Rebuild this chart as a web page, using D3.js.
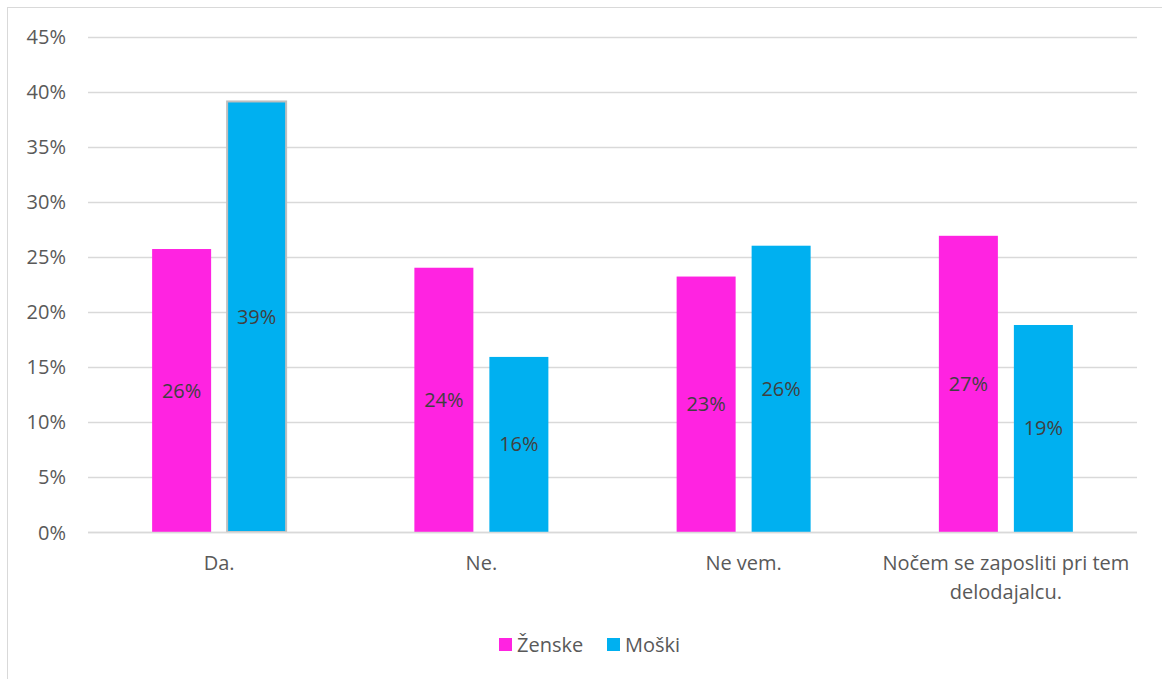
<!DOCTYPE html>
<html><head><meta charset="utf-8">
<script src="https://cdn.jsdelivr.net/npm/d3@7"></script>
<style>body{margin:0;background:#fff}svg{display:block}text{font-family:"Open Sans",sans-serif}</style>
</head><body>
<svg id="c" width="1162" height="679"></svg>
<script>
const categories = [["Da."],["Ne."],["Ne vem."],["Nočem se zaposliti pri tem","delodajalcu."]];
const seriesNames = ["Ženske","Moški"];
const zenske = [25.7, 24.0, 23.2, 26.9];
const moski = [39.1, 15.9, 26.0, 18.8];
const labelsZ = ["26%","24%","23%","27%"];
const labelsM = ["39%","16%","26%","19%"];
const yTicks = [0,5,10,15,20,25,30,35,40,45];
const colors = ["#FF23E1","#00B0F0"];

const FS = 20;
const svg = d3.select("#c");
svg.append("rect").attr("x",7.5).attr("y",7.5).attr("width",1170).attr("height",700)
  .attr("fill","none").attr("stroke","#d9d9d9").attr("stroke-width",1);

const L=88,R=1137,T=36.5,B=532;
const x = d3.scaleBand().domain(d3.range(4)).range([L,R]);
const barW = 59, gap = 16, groupW = 2*barW+gap;
const xs = d3.scaleOrdinal().domain([0,1]).range([0, barW+gap]);
const y = d3.scaleLinear().domain([0,45]).range([B,T]);

const g = svg.append("g");
g.append("g").selectAll("line").data(yTicks).join("line")
  .attr("x1",L).attr("x2",R).attr("y1",d=>Math.round(y(d))+0.5).attr("y2",d=>Math.round(y(d))+0.5)
  .attr("stroke","#d9d9d9").attr("stroke-width",1.5);

const yAxis = d3.axisLeft(y).tickValues(yTicks).tickFormat(d=>d+"%").tickSize(0).tickPadding(0);
const ya = g.append("g").attr("transform","translate(66,0)").call(yAxis);
ya.select(".domain").remove();
ya.selectAll("text").attr("font-size",FS).attr("fill","#595959").attr("font-family","Open Sans").attr("dy","0.35em");

const series=[zenske,moski], labs=[labelsZ,labelsM];
const bx = (i,si)=>x(i)+x.bandwidth()/2-groupW/2+xs(si);
series.forEach((vals,si)=>{
  const gg=g.append("g");
  gg.selectAll("rect").data(vals).join("rect")
    .attr("x",(d,i)=>bx(i,si))
    .attr("width",barW)
    .attr("y",d=>y(d)).attr("height",d=>B-y(d))
    .attr("fill",colors[si])
    .attr("stroke",(d,i)=>(si===1&&i===0)?"#bfbfbf":"none").attr("stroke-width",2);
  gg.selectAll("text").data(vals).join("text")
    .attr("x",(d,i)=>bx(i,si)+barW/2)
    .attr("y",d=>(y(d)+B)/2).attr("dy","0.35em").attr("text-anchor","middle")
    .attr("font-size",FS).attr("fill","#404040").text((d,i)=>labs[si][i]);
});

const xa = g.append("g");
categories.forEach((lines,i)=>{
  const t = xa.append("text").attr("x",x(i)+x.bandwidth()/2).attr("y",570)
    .attr("text-anchor","middle").attr("font-size",FS).attr("fill","#595959");
  lines.forEach((ln,j)=>t.append("tspan").attr("x",x(i)+x.bandwidth()/2).attr("dy",j===0?0:29).text(ln));
});
svg.append("line").attr("x1",L).attr("x2",R).attr("y1",B+0.5).attr("y2",B+0.5).attr("stroke","#d9d9d9").attr("stroke-width",1.5);

const leg = svg.append("g");
const legX=[499,607];
seriesNames.forEach((n,i)=>{
  leg.append("rect").attr("x",legX[i]).attr("y",638).attr("width",13).attr("height",13).attr("fill",colors[i]);
  leg.append("text").attr("x",legX[i]+18).attr("y",645).attr("dy","0.35em").attr("font-size",FS).attr("fill","#595959").text(n);
});
</script>
</body></html>
